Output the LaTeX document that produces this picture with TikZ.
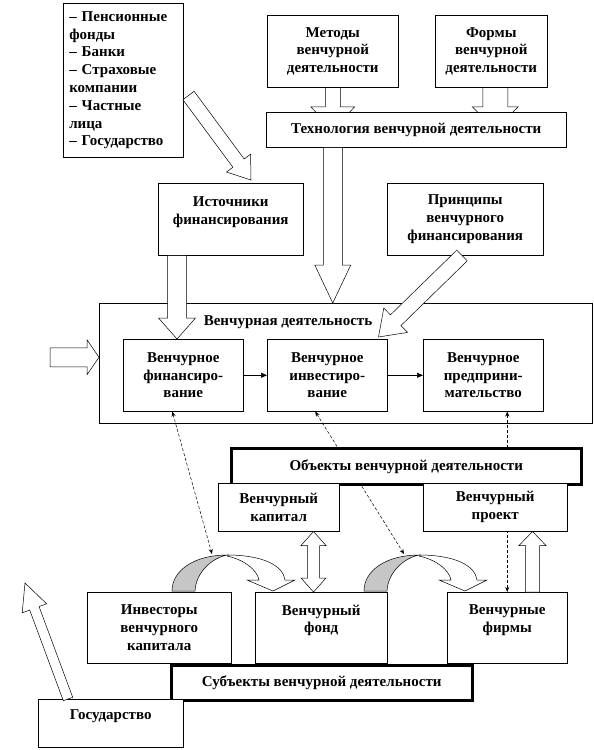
\documentclass[tikz,border=0pt]{standalone}
\usepackage{fontspec}
\setmainfont{Liberation Serif}
\usetikzlibrary{calc,positioning,arrows.meta,backgrounds}

% hollow block arrow: tail, tip, half shaft, half head, head length
\newcommand\blkar[5]{%
  \coordinate (bah) at ($(#2)!#5!(#1)$);
  \draw[ha] ($(#1)!#3!90:(#2)$) -- ($(bah)!#3!90:(#2)$) -- ($(bah)!#4!90:(#2)$) -- (#2)
    -- ($(bah)!#4!-90:(#2)$) -- ($(bah)!#3!-90:(#2)$) -- ($(#1)!#3!-90:(#2)$) -- cycle;}
% hollow double arrow: tip a, tip b, half shaft, half head, head length
\newcommand\dblar[5]{%
  \coordinate (baa) at ($(#1)!#5!(#2)$);
  \coordinate (bab) at ($(#2)!#5!(#1)$);
  \draw[ha] (#1) -- ($(baa)!#4!90:(#2)$) -- ($(baa)!#3!90:(#2)$) -- ($(bab)!#3!-90:(#1)$)
    -- ($(bab)!#4!-90:(#1)$) -- (#2) -- ($(bab)!#4!90:(#1)$) -- ($(bab)!#3!90:(#1)$)
    -- ($(baa)!#3!-90:(#2)$) -- ($(baa)!#4!-90:(#2)$) -- cycle;}

\begin{document}
\begin{tikzpicture}[x=1pt,y=-1pt,
  bx/.style={draw, line width=0.5pt, fill=white, inner sep=2pt, align=center, anchor=north west, font=\bfseries\fontsize{15}{17.8}\selectfont},
  bxt/.style={bx, line width=2.5pt},
  ha/.style={draw, line width=0.5pt, fill=white, line join=miter},
  ar/.style={-{Triangle[length=6pt,width=5pt]}, line width=0.6pt},
  da/.style={densely dashed, line width=0.5pt, {Stealth[length=5pt,width=4pt]}-{Stealth[length=5pt,width=4pt]}}]
  \useasboundingbox (0,0) rectangle (594,750);
  % main block
  \node[bx, fill=none, minimum width=493, minimum height=120] (vd) at (99,303) {};
  \node[font=\bfseries\fontsize{15}{17.8}\selectfont] (vdt) at (288,322) {Венчурная деятельность};
  \node[bx, minimum width=120, minimum height=72] (fin) at (123,339) {Венчурное\\финансиро-\\вание};
  \node[bx, minimum width=120, minimum height=72] (inv) at (267,339) {Венчурное\\инвестиро-\\вание};
  \node[bx, minimum width=120, minimum height=72] (pred) at (423,339) {Венчурное\\предприни-\\мательство};
  % upper part
  \node[bx, minimum width=120, minimum height=154, text width=108, inner sep=6pt, align=left] (src) at (63,3)
    {– Пенсионные\\фонды\\– Банки\\– Страховые\\компании\\– Частные\\лица\\– Государство};
  \node[bx, minimum width=131, minimum height=72] (met) at (267,15) {Методы\\венчурной\\деятельности};
  \node[bx, minimum width=112, minimum height=72] (frm) at (435,15) {Формы\\венчурной\\деятельности};
  \node[bx, minimum width=300, minimum height=35] (tech) at (266,112) {Технология венчурной деятельности};
  \node[bx, minimum width=145, minimum height=72] (ist) at (158,183) {Источники\\финансирования\\\mbox{}};
  \node[bx, minimum width=156, minimum height=72] (prn) at (387,183) {Принципы\\венчурного\\финансирования};
  % lower part
  \node[bxt, minimum width=350, minimum height=36] (obj) at (230,447) {Объекты венчурной деятельности};
  \node[bx, minimum width=121, minimum height=48] (kap) at (218,483) {Венчурный\\капитал};
  \node[bx, minimum width=144, minimum height=48] (prj) at (423,483) {Венчурный\\проект};
  \node[bx, minimum width=144, minimum height=71] (ivs) at (87,592) {Инвесторы\\венчурного\\капитала};
  \node[bx, minimum width=132, minimum height=71] (fon) at (255,592) {Венчурный\\фонд\\\mbox{}};
  \node[bx, minimum width=120, minimum height=71] (fir) at (447,592) {Венчурные\\фирмы\\\mbox{}};
  \node[bxt, minimum width=301, minimum height=35] (sub) at (170,664) {Субъекты венчурной деятельности};
  \node[bx, minimum width=145, minimum height=48] (gos) at (38,699) {Государство\\\mbox{}};

  % curved arrows between subjects
  \foreach \n/\m in {fon/ap1, fir/ap2}{
    \begin{scope}[shift={($(\n.north west)+(18,-1)$)}]
      \draw[line width=0.5pt, fill=gray!45] (-101,0) .. controls (-101,-21) and (-78,-36) .. (-46,-36)
        .. controls (-61,-33) and (-77,-19) .. (-78,0) -- cycle;
      \draw[ha] (-46,-36) .. controls (-11,-36) and (10,-26) .. (12,-11) -- (22,-11) -- (0,0) -- (-26,-11)
        -- (-14,-11) .. controls (-16,-21) and (-28,-31) .. (-46,-35) -- cycle;
      \coordinate (\m) at (-61,-37);
    \end{scope}}

  % arrows behind the boxes
  \begin{scope}[on background layer]
    \coordinate (m1) at (met.south |- tech.center);
    \blkar{met.south}{m1}{7.5pt}{22pt}{23pt}
    \coordinate (f1) at ($(frm.south |- tech.center)+(4,0)$);
    \coordinate (f0) at ($(frm.south)+(4,0)$);
    \blkar{f0}{f1}{12.5pt}{23pt}{23pt}
    \draw[da] ($(inv.south)+(-12,0)$) -- (ap2);
    \draw[da] (fir.north |- pred.south) -- (fir.north);
  \end{scope}
  \draw[da] ($(fin.south)+(-11,0)$) -- (ap1);

  % block arrows
  \coordinate (t1) at ($(src.south east)+(5,-62)$);
  \coordinate (h1) at ($(ist.north west)+(93,-3)$);
  \blkar{t1}{h1}{7pt}{15pt}{21pt}
  \coordinate (t2) at (met.south |- tech.south);
  \coordinate (h2) at (met.south |- vd.north);
  \blkar{t2}{h2}{9.5pt}{18pt}{38pt}
  \coordinate (t3) at ($(ist.south west)+(19,0)$);
  \coordinate (h3) at (t3 |- fin.north);
  \blkar{t3}{h3}{9.5pt}{18.5pt}{21pt}
  \coordinate (t4) at ($(prn.south west)+(75,0)$);
  \coordinate (h4) at ($(inv.north east)+(-9,-2)$);
  \blkar{t4}{h4}{7.5pt}{17pt}{24pt}
  \coordinate (h5) at ($(vd.west)+(0,-6)$);
  \coordinate (t5) at ($(h5)+(-49,0)$);
  \blkar{t5}{h5}{9.5pt}{17.5pt}{12pt}
  \coordinate (k1) at ($(kap.south east)+(-26,0)$);
  \coordinate (k2) at (k1 |- fon.north);
  \dblar{k1}{k2}{6pt}{12.5pt}{14pt}
  \coordinate (t6) at ($(fir.north east)+(-35,0)$);
  \coordinate (h6) at (t6 |- prj.south);
  \blkar{t6}{h6}{7pt}{13.5pt}{14pt}
  \coordinate (t7) at ($(gos.north west)+(30,0)$);
  \coordinate (h7) at (25,583);
  \blkar{t7}{h7}{5pt}{13pt}{27pt}

  % flow inside the main block
  \draw[ar] (fin.east) -- (inv.west);
  \draw[ar] (inv.east) -- (pred.west);
\end{tikzpicture}
\end{document}
